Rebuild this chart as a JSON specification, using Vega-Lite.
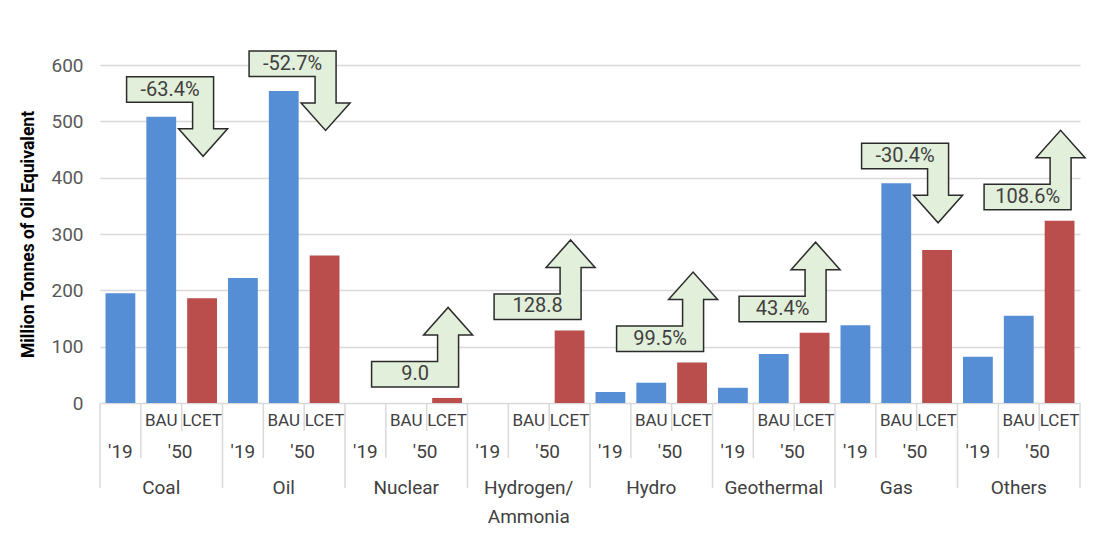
{
  "$schema": "https://vega.github.io/schema/vega-lite/v6.json",
  "width": 980,
  "height": 338,
  "autosize": {"type": "none"},
  "padding": {"left": 100, "top": 65, "right": 20, "bottom": 140},
  "background": "#ffffff",
  "config": {
    "font": "Roboto",
    "view": {"stroke": null},
    "text": {"font": "Roboto", "fontSize": 19, "color": "#404040"}
  },
  "datasets": {
    "bars": [
      {"bar": "Coal '19", "cat": "Coal", "kind": "'19", "value": 195},
      {"bar": "Coal BAU", "cat": "Coal", "kind": "BAU", "value": 508},
      {"bar": "Coal LCET", "cat": "Coal", "kind": "LCET", "value": 186},
      {"bar": "Oil '19", "cat": "Oil", "kind": "'19", "value": 222},
      {"bar": "Oil BAU", "cat": "Oil", "kind": "BAU", "value": 554},
      {"bar": "Oil LCET", "cat": "Oil", "kind": "LCET", "value": 262},
      {"bar": "Nuclear '19", "cat": "Nuclear", "kind": "'19", "value": 0},
      {"bar": "Nuclear BAU", "cat": "Nuclear", "kind": "BAU", "value": 0},
      {"bar": "Nuclear LCET", "cat": "Nuclear", "kind": "LCET", "value": 9.0},
      {"bar": "Hydrogen '19", "cat": "Hydrogen/\nAmmonia", "kind": "'19", "value": 0},
      {"bar": "Hydrogen BAU", "cat": "Hydrogen/\nAmmonia", "kind": "BAU", "value": 0},
      {"bar": "Hydrogen LCET", "cat": "Hydrogen/\nAmmonia", "kind": "LCET", "value": 128.8},
      {"bar": "Hydro '19", "cat": "Hydro", "kind": "'19", "value": 19.5},
      {"bar": "Hydro BAU", "cat": "Hydro", "kind": "BAU", "value": 36},
      {"bar": "Hydro LCET", "cat": "Hydro", "kind": "LCET", "value": 71.8},
      {"bar": "Geothermal '19", "cat": "Geothermal", "kind": "'19", "value": 27},
      {"bar": "Geothermal BAU", "cat": "Geothermal", "kind": "BAU", "value": 87},
      {"bar": "Geothermal LCET", "cat": "Geothermal", "kind": "LCET", "value": 124.8},
      {"bar": "Gas '19", "cat": "Gas", "kind": "'19", "value": 138},
      {"bar": "Gas BAU", "cat": "Gas", "kind": "BAU", "value": 390},
      {"bar": "Gas LCET", "cat": "Gas", "kind": "LCET", "value": 271.4},
      {"bar": "Others '19", "cat": "Others", "kind": "'19", "value": 82},
      {"bar": "Others BAU", "cat": "Others", "kind": "BAU", "value": 155},
      {"bar": "Others LCET", "cat": "Others", "kind": "LCET", "value": 323.3}
    ],
    "notes": [
      {"bar": "Coal LCET", "ref": "Coal BAU", "note": "-63.4%", "dir": "down"},
      {"bar": "Oil LCET", "ref": "Oil BAU", "note": "-52.7%", "dir": "down"},
      {"bar": "Nuclear LCET", "ref": "Nuclear LCET", "note": "9.0", "dir": "up"},
      {"bar": "Hydrogen LCET", "ref": "Hydrogen LCET", "note": "128.8", "dir": "up"},
      {"bar": "Hydro LCET", "ref": "Hydro LCET", "note": "99.5%", "dir": "up"},
      {"bar": "Geothermal LCET", "ref": "Geothermal LCET", "note": "43.4%", "dir": "up"},
      {"bar": "Gas LCET", "ref": "Gas BAU", "note": "-30.4%", "dir": "down"},
      {"bar": "Others LCET", "ref": "Others LCET", "note": "108.6%", "dir": "up"}
    ]
  },
  "data": {"name": "bars"},
  "encoding": {
    "x": {
      "field": "bar",
      "type": "nominal",
      "sort": null,
      "scale": {"paddingInner": 0, "paddingOuter": 0},
      "axis": null
    }
  },
  "layer": [
    {
      "mark": {"type": "bar", "width": {"band": 0.73}},
      "encoding": {
        "y": {
          "field": "value",
          "type": "quantitative",
          "scale": {"domain": [0, 600], "nice": false, "zero": true},
          "axis": {
            "title": "Million Tonnes of Oil Equivalent",
            "titleFont": "Roboto",
            "titleFontSize": 17.5,
            "titleFontWeight": "bold",
            "titleColor": "#000000",
            "titlePadding": 13,
            "values": [0, 100, 200, 300, 400, 500, 600],
            "labelFont": "Roboto",
            "labelFontSize": 19,
            "labelColor": "#595959",
            "labelPadding": 17,
            "domain": false,
            "ticks": false,
            "grid": true,
            "gridColor": "#d9d9d9",
            "gridWidth": 1.5
          }
        },
        "color": {
          "field": "kind",
          "type": "nominal",
          "scale": {"domain": ["'19", "BAU", "LCET"], "range": ["#558ED5", "#558ED5", "#BA4E4C"]},
          "legend": null
        }
      }
    },
    {
      "transform": [{"filter": "datum.kind === \"'19\""}],
      "mark": {"type": "rule", "color": "#d9d9d9", "strokeWidth": 1.5},
      "encoding": {
        "x": {"field": "bar", "type": "nominal", "sort": null, "bandPosition": 0},
        "y": {"datum": 0},
        "y2": {"datum": -151}
      }
    },
    {
      "transform": [{"filter": "datum.bar === 'Others LCET'"}],
      "mark": {"type": "rule", "color": "#d9d9d9", "strokeWidth": 1.5},
      "encoding": {
        "x": {"field": "bar", "type": "nominal", "sort": null, "bandPosition": 1},
        "y": {"datum": 0},
        "y2": {"datum": -151}
      }
    },
    {
      "transform": [{"filter": "datum.kind === 'BAU'"}],
      "mark": {"type": "rule", "color": "#d9d9d9", "strokeWidth": 1.5},
      "encoding": {
        "x": {"field": "bar", "type": "nominal", "sort": null, "bandPosition": 0},
        "y": {"datum": 0},
        "y2": {"datum": -97.6}
      }
    },
    {
      "transform": [{"filter": "datum.kind === 'LCET'"}],
      "mark": {"type": "rule", "color": "#d9d9d9", "strokeWidth": 1.5},
      "encoding": {
        "x": {"field": "bar", "type": "nominal", "sort": null, "bandPosition": 0},
        "y": {"datum": 0},
        "y2": {"datum": -49.7}
      }
    },
    {
      "transform": [{"filter": "datum.kind !== \"'19\""}],
      "mark": {"type": "text", "baseline": "alphabetic", "align": "center", "fontSize": 17},
      "encoding": {
        "y": {"datum": -40.3},
        "text": {"field": "kind"}
      }
    },
    {
      "transform": [{"filter": "datum.kind === \"'19\""}],
      "mark": {"type": "text", "baseline": "alphabetic", "align": "center"},
      "encoding": {
        "y": {"datum": -98.5},
        "text": {"field": "kind"}
      }
    },
    {
      "transform": [{"filter": "datum.kind === 'LCET'"}],
      "mark": {"type": "text", "baseline": "alphabetic", "align": "center", "text": "'50", "dx": -1.5},
      "encoding": {
        "x": {"field": "bar", "type": "nominal", "sort": null, "bandPosition": 0},
        "y": {"datum": -98.5}
      }
    },
    {
      "transform": [{"filter": "datum.kind === 'BAU'"}],
      "mark": {"type": "text", "baseline": "alphabetic", "align": "center", "lineBreak": "\n", "lineHeight": 29},
      "encoding": {
        "y": {"datum": -161.5},
        "text": {"field": "cat"}
      }
    },
    {
      "data": {"name": "notes"},
      "transform": [
        {"lookup": "ref", "from": {"data": {"name": "bars"}, "key": "bar", "fields": ["value"]}},
        {"filter": "datum.dir === 'down'"}
      ],
      "layer": [
        {
          "mark": {
            "type": "point",
            "shape": "M -75.5 -40 L 11.5 -40 L 11.5 12 L 25.5 12 L 1 39.5 L -23.5 12 L -9.5 12 L -9.5 -14.5 L -75.5 -14.5 Z",
            "size": 4,
            "filled": true,
            "fill": "#E2EFDA",
            "stroke": "#2b2b2b",
            "strokeWidth": 1.5,
            "opacity": 1
          },
          "encoding": {
            "x": {"field": "bar", "type": "nominal", "sort": null},
            "y": {"field": "value", "type": "quantitative"}
          }
        },
        {
          "mark": {"type": "text", "baseline": "middle", "align": "center", "dx": -32, "dy": -27, "fontSize": 20},
          "encoding": {
            "x": {"field": "bar", "type": "nominal", "sort": null},
            "y": {"field": "value", "type": "quantitative"},
            "text": {"field": "note"}
          }
        }
      ]
    },
    {
      "data": {"name": "notes"},
      "transform": [
        {"lookup": "ref", "from": {"data": {"name": "bars"}, "key": "bar", "fields": ["value"]}},
        {"filter": "datum.dir === 'up'"}
      ],
      "layer": [
        {
          "mark": {
            "type": "point",
            "shape": "M -75.5 -11 L 11.5 -11 L 11.5 -63 L 25.5 -63 L 1 -90.5 L -23.5 -63 L -9.5 -63 L -9.5 -36.5 L -75.5 -36.5 Z",
            "size": 4,
            "filled": true,
            "fill": "#E2EFDA",
            "stroke": "#2b2b2b",
            "strokeWidth": 1.5,
            "opacity": 1
          },
          "encoding": {
            "x": {"field": "bar", "type": "nominal", "sort": null},
            "y": {"field": "value", "type": "quantitative"}
          }
        },
        {
          "mark": {"type": "text", "baseline": "middle", "align": "center", "dx": -32, "dy": -24, "fontSize": 20},
          "encoding": {
            "x": {"field": "bar", "type": "nominal", "sort": null},
            "y": {"field": "value", "type": "quantitative"},
            "text": {"field": "note"}
          }
        }
      ]
    }
  ]
}
